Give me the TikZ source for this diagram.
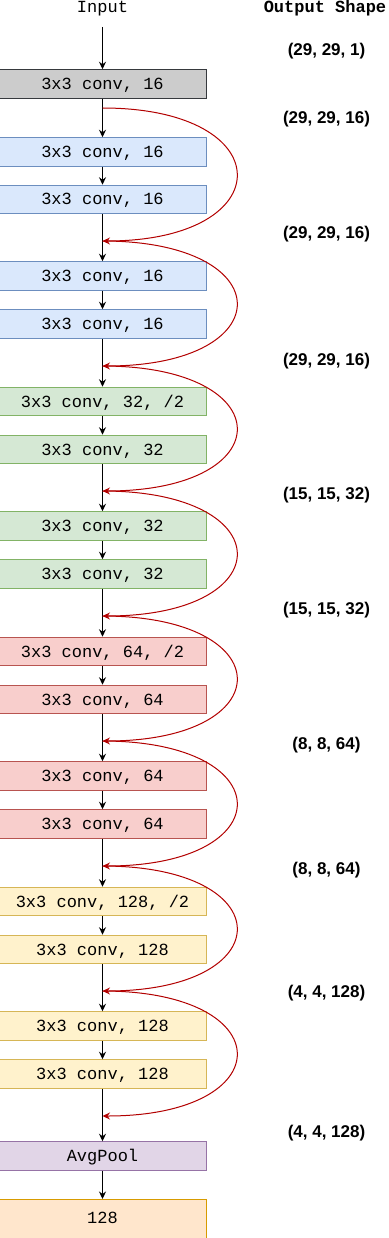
\documentclass[tikz,border=0pt]{standalone}
\usepackage{fontspec}
\setmainfont{Liberation Sans}
\newfontfamily\monofont{Liberation Mono}
\usetikzlibrary{arrows.meta}
\definecolor{grayF}{HTML}{CCCCCC}\definecolor{grayS}{HTML}{36393D}
\definecolor{blueF}{HTML}{DAE8FC}\definecolor{blueS}{HTML}{6C8EBF}
\definecolor{greenF}{HTML}{D5E8D4}\definecolor{greenS}{HTML}{82B366}
\definecolor{redF}{HTML}{F8CECC}\definecolor{redS}{HTML}{B85450}
\definecolor{yelF}{HTML}{FFF2CC}\definecolor{yelS}{HTML}{D6B656}
\definecolor{purF}{HTML}{E1D5E7}\definecolor{purS}{HTML}{9673A6}
\definecolor{oraF}{HTML}{FFE6CC}\definecolor{oraS}{HTML}{D79B00}
\definecolor{skipC}{HTML}{B20000}
\tikzset{
  layer/.style={draw, line width=1pt, minimum width=208pt, minimum height=28.5pt,
    inner sep=0pt, text height=11pt, text depth=0pt,
    font=\monofont\fontsize{17}{20}\selectfont},
  graybox/.style={layer, fill=grayF, draw=grayS},
  bluebox/.style={layer, fill=blueF, draw=blueS},
  greenbox/.style={layer, fill=greenF, draw=greenS},
  redbox/.style={layer, fill=redF, draw=redS},
  yelbox/.style={layer, fill=yelF, draw=yelS},
  purbox/.style={layer, fill=purF, draw=purS},
  flow/.style={line width=1pt, -{Stealth[length=7.5pt,width=7pt,inset=2.5pt]}},
  skipline/.style={line width=1pt, draw=skipC, -{Stealth[length=7.5pt,width=7pt,inset=2.5pt]}},
  dimlabel/.style={font=\bfseries\fontsize{17}{20}\selectfont},
  head/.style={font=\monofont\fontsize{17}{20}\selectfont, anchor=base},
}
\begin{document}
\begin{tikzpicture}[x=1pt,y=-1pt]
\useasboundingbox (0,0) rectangle (388,1238);
% headers
\node[head] (hin) at (102.5,12.5) {Input};
\node[head, font=\monofont\bfseries\fontsize{17}{20}\selectfont] (hout) at (325,12.5) {Output Shape};
% boxes
\node[graybox]  (b0)  at (102.5,84)    {3x3 conv, 16};
\node[bluebox]  (b1)  at (102.5,152)   {3x3 conv, 16};
\node[bluebox]  (b2)  at (102.5,199.5) {3x3 conv, 16};
\node[bluebox]  (b3)  at (102.5,276)   {3x3 conv, 16};
\node[bluebox]  (b4)  at (102.5,324)   {3x3 conv, 16};
\node[greenbox] (b5)  at (102.5,401.5) {3x3 conv, 32, /2};
\node[greenbox] (b6)  at (102.5,449.5) {3x3 conv, 32};
\node[greenbox] (b7)  at (102.5,526)   {3x3 conv, 32};
\node[greenbox] (b8)  at (102.5,574)   {3x3 conv, 32};
\node[redbox]   (b9)  at (102.5,651.5) {3x3 conv, 64, /2};
\node[redbox]   (b10) at (102.5,699.5) {3x3 conv, 64};
\node[redbox]   (b11) at (102.5,776)   {3x3 conv, 64};
\node[redbox]   (b12) at (102.5,824)   {3x3 conv, 64};
\node[yelbox]   (b13) at (102.5,901.5) {3x3 conv, 128, /2};
\node[yelbox]   (b14) at (102.5,949.5) {3x3 conv, 128};
\node[yelbox]   (b15) at (102.5,1026)  {3x3 conv, 128};
\node[yelbox]   (b16) at (102.5,1074)  {3x3 conv, 128};
\node[purbox]   (pool) at (102.5,1156) {AvgPool};
\node[layer, fill=oraF, draw=oraS, anchor=north, minimum height=0pt,
      text height=24pt, text depth=24pt] (out) at (102.5,1199) {128};
% output shapes
\node[dimlabel] (s0) at (326.5,51)    {(29, 29, 1)};
\node[dimlabel] (s1) at (326.5,119.5) {(29, 29, 16)};
\node[dimlabel] (s2) at (326.5,234)   {(29, 29, 16)};
\node[dimlabel] (s3) at (326.5,361)   {(29, 29, 16)};
\node[dimlabel] (s4) at (326.5,495.5) {(15, 15, 32)};
\node[dimlabel] (s5) at (326.5,610.5) {(15, 15, 32)};
\node[dimlabel] (s6) at (326.5,745.5) {(8, 8, 64)};
\node[dimlabel] (s7) at (326.5,870)   {(8, 8, 64)};
\node[dimlabel] (s8) at (326.5,993)   {(4, 4, 128)};
\node[dimlabel] (s9) at (326.5,1133)  {(4, 4, 128)};
% main flow
\coordinate (in) at (102.5,27);
\draw[flow] (in) -- (b0.north);
\foreach \a/\b in {b0/b1,b1/b2,b2/b3,b3/b4,b4/b5,b5/b6,b6/b7,b7/b8,b8/b9,b9/b10,b10/b11,b11/b12,b12/b13,b13/b14,b14/b15,b15/b16,b16/pool,pool/out}
  \draw[flow] (\a.south) -- (\b.north);
% skip junctions
\coordinate (j0) at (102.5,108);
\coordinate (j1) at (102.5,241);
\coordinate (j2) at (102.5,366);
\coordinate (j3) at (102.5,491);
\coordinate (j4) at (102.5,616);
\coordinate (j5) at (102.5,741);
\coordinate (j6) at (102.5,866);
\coordinate (j7) at (102.5,991);
\coordinate (j8) at (102.5,1116);
\foreach \a/\b in {j0/j1,j1/j2,j2/j3,j3/j4,j4/j5,j5/j6,j6/j7,j7/j8}
  \draw[skipline] (\a) .. controls +(179,0) and +(179,0) .. (\b);
\end{tikzpicture}
\end{document}
